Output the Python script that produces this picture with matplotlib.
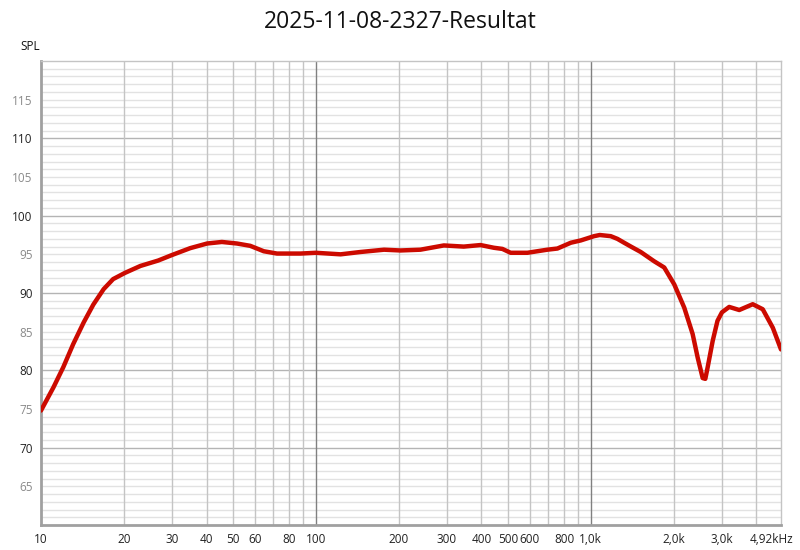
import matplotlib
matplotlib.use('Agg')
import matplotlib.pyplot as plt
from matplotlib.ticker import FixedLocator, NullFormatter
from matplotlib.transforms import ScaledTranslation

# --- datos ---
frecuencias = [10, 11.1, 12.05, 13.1, 14.3, 15.5, 16.9, 18.3, 20.2, 23.0, 26.7, 29.9,
               34.9, 40.2, 45.5, 51.6, 57.7, 64.6, 72.2, 87.8, 100, 123, 145, 177,
               203, 240, 292, 345, 397, 444, 477, 511, 588, 695, 756, 846, 920,
               1028, 1078, 1182, 1250, 1322, 1400, 1520, 1701, 1850, 2013, 2188,
               2347, 2448, 2553, 2610, 2662, 2776, 2890, 3000, 3188, 3468, 3883,
               4222, 4595, 4920]
spl = [74.8, 77.8, 80.4, 83.4, 86.2, 88.5, 90.5, 91.8, 92.6, 93.5, 94.2, 94.9,
       95.8, 96.4, 96.6, 96.4, 96.1, 95.4, 95.1, 95.1, 95.2, 95.0, 95.3, 95.6,
       95.5, 95.6, 96.15, 96.0, 96.2, 95.85, 95.7, 95.2, 95.2, 95.6, 95.75, 96.5, 96.8,
       97.35, 97.5, 97.35, 97.0, 96.5, 96.0, 95.3, 94.1, 93.3, 91.1, 88.1,
       84.7, 81.65, 79.0, 78.9, 80.4, 83.8, 86.4, 87.5, 88.2, 87.8, 88.55,
       87.9, 85.5, 82.7]

TITULO = '2025-11-08-2327-Resultat'
ticks_x = [10, 20, 30, 40, 50, 60, 80, 100, 200, 300, 400, 500, 600, 800, 1000, 2000, 3000, 4920]
etiquetas_x = ['10', '20', '30', '40', '50', '60', '80', '100', '200', '300', '400',
               '500', '600', '800', '1,0k', '2,0k', '3,0k', '4,92kHz']
ticks_y = [65, 70, 75, 80, 85, 90, 95, 100, 105, 110, 115]

plt.rcParams['font.family'] = ['Open Sans', 'DejaVu Sans']

fig = plt.figure(figsize=(8, 5.5), dpi=100)
ax = fig.add_axes([41 / 800, 25 / 550, 740 / 800, 464 / 550])
ax.set_xscale('log')
ax.set_xlim(10, 4920)
ax.set_ylim(60, 120)

# rejilla horizontal (cada dB, mas oscura cada 10)
for v in range(61, 120):
    if v % 10 == 0:
        ax.axhline(v, color='#b4b4b4', lw=1, zorder=1)
    else:
        ax.axhline(v, color='#e2e2e2', lw=1, zorder=0)

# rejilla vertical
lineas_x = [20, 30, 40, 50, 60, 70, 80, 90, 200, 300, 400, 500, 600, 700, 800, 900, 2000, 3000, 4000]
for f in lineas_x:
    ax.axvline(f, color='#c4c4c4', lw=1, zorder=1)
for f in [100, 1000]:
    ax.axvline(f, color='#808080', lw=1, zorder=1)

ax.plot(frecuencias, spl, color='#cc0a00', lw=3.2, solid_capstyle='round',
        solid_joinstyle='round', zorder=3)

ax.xaxis.set_major_locator(FixedLocator(ticks_x))
ax.xaxis.set_minor_formatter(NullFormatter())
ax.xaxis.set_minor_locator(FixedLocator([]))
ax.set_xticklabels(etiquetas_x)
ax.set_yticks(ticks_y)
ax.tick_params(length=0, labelsize=8.5, pad=6)
for lab in ax.get_yticklabels():
    if int(lab.get_text()) % 10 == 0:
        lab.set_color('#222222')
    else:
        lab.set_color('#8a8a8a')
for lab in ax.get_xticklabels():
    lab.set_color('#222222')
ultima = ax.get_xticklabels()[-1]
ultima.set_transform(ultima.get_transform() + ScaledTranslation(-0.09, 0, fig.dpi_scale_trans))

for s in ['top', 'right']:
    ax.spines[s].set_color('#c4c4c4')
    ax.spines[s].set_linewidth(1)
for s in ['left', 'bottom']:
    ax.spines[s].set_color('#a0a0a0')
    ax.spines[s].set_linewidth(2)

fig.text(0.5, 1 - 22 / 550, TITULO, ha='center', va='center', fontsize=16.5, color='#111111')
fig.text(20 / 800, 1 - 47 / 550, 'SPL', ha='left', va='center', fontsize=8.5, color='#111111')

fig.savefig('out.png', dpi=100, facecolor='white')
